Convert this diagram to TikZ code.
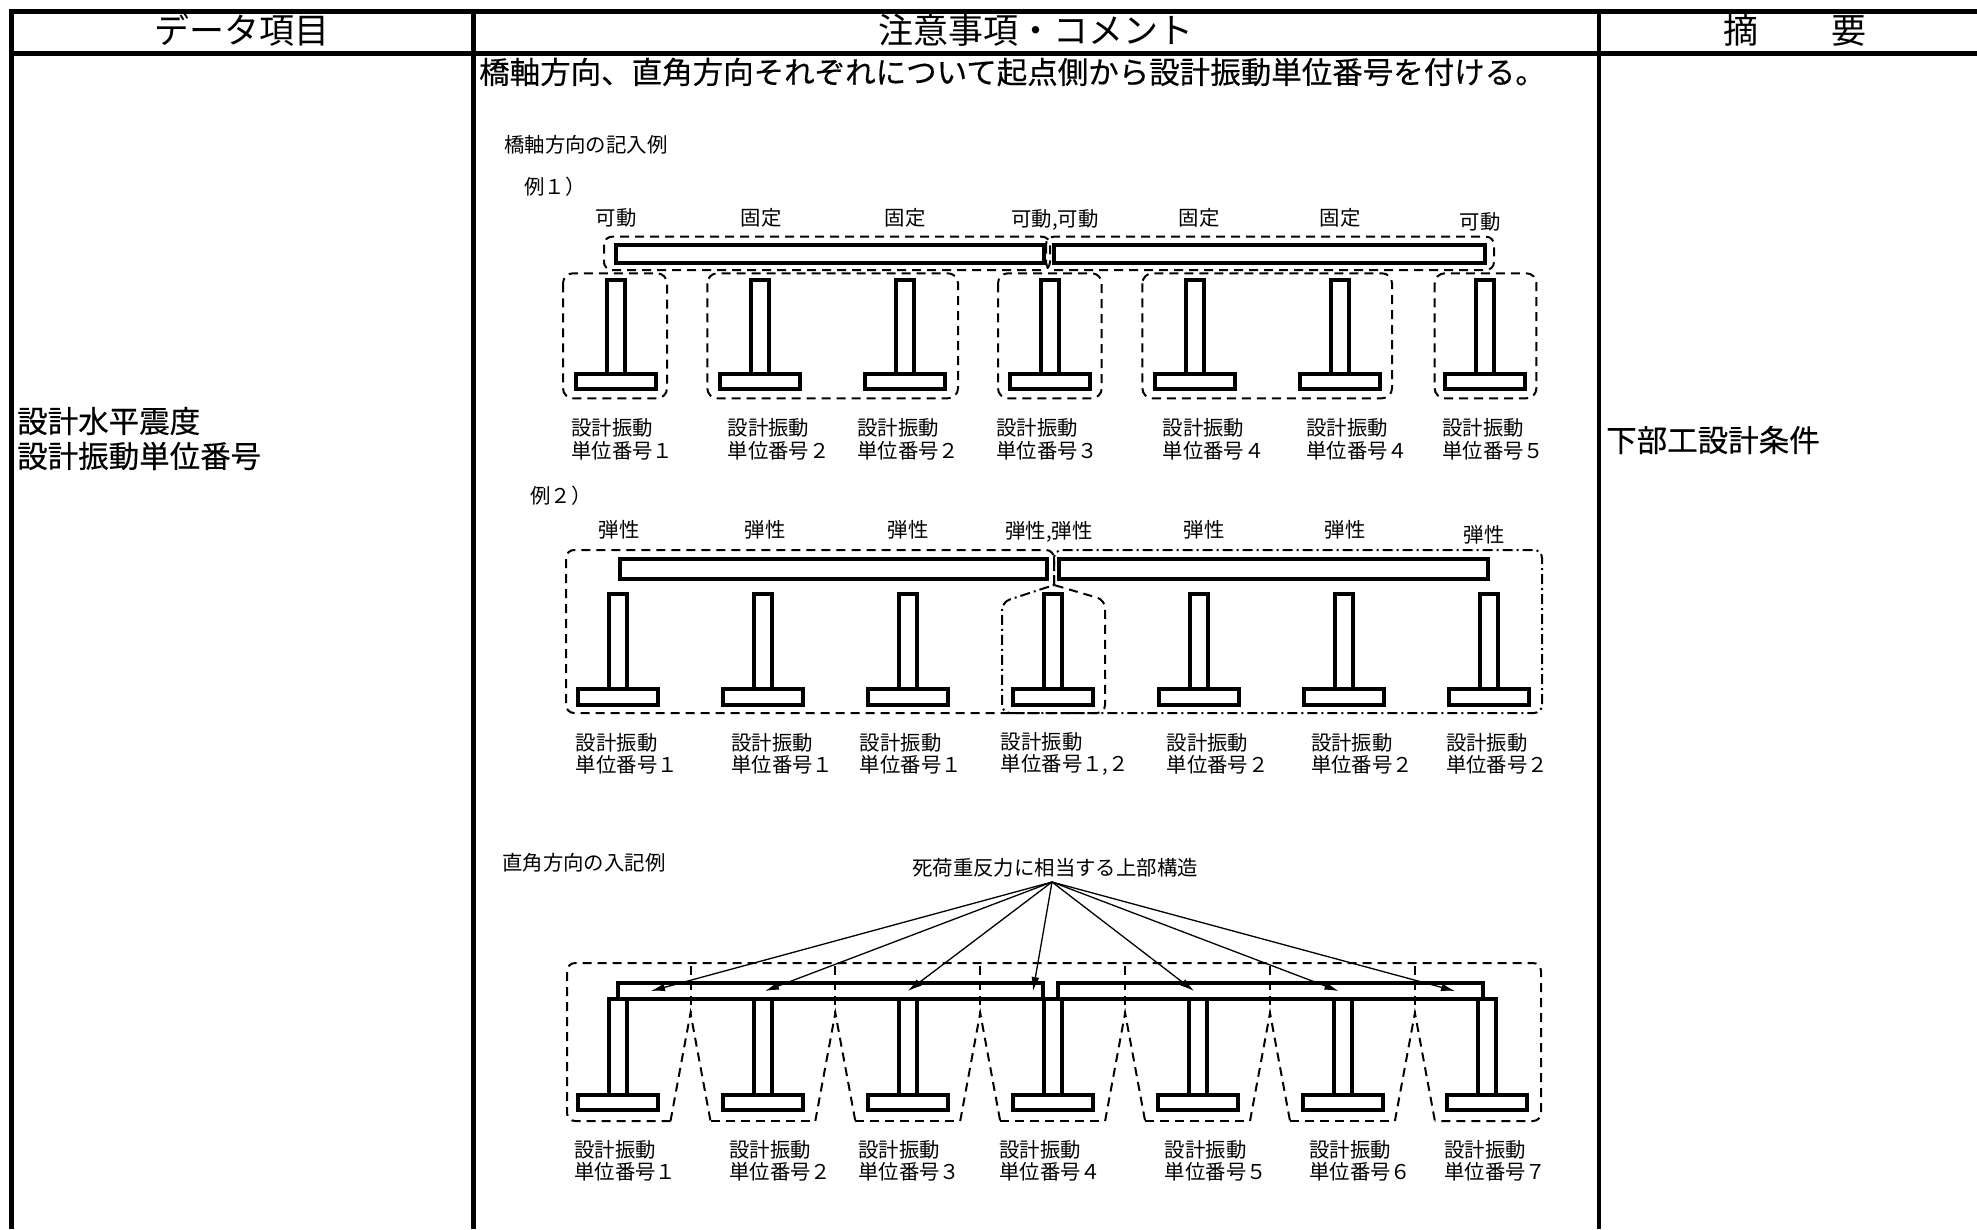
\documentclass[tikz,border=0pt]{standalone}
\usepackage{fontspec}
\setmainfont{Noto Sans CJK JP}
\newfontfamily\bdfam[FakeBold=0.4]{Noto Sans CJK JP}
\usetikzlibrary{arrows.meta}
\newcommand{\hdfont}{\fontsize{35pt}{40pt}\selectfont}
\newcommand{\bdfont}{\bdfam\fontsize{30.5pt}{35pt}\selectfont}
\newcommand{\dgfont}{\fontsize{20.4pt}{22.5pt}\selectfont}
\begin{document}
\begin{tikzpicture}[x=1pt,y=-1pt,
  tbl/.style={line width=4.7pt, line join=miter},
  member/.style={draw, line width=4pt, fill=white},
  dsh/.style={line width=2pt, dash pattern=on 9pt off 6pt},
  dshdot/.style={line width=2pt, dash pattern=on 10pt off 4pt on 2pt off 4pt},
  hd/.style={font=\hdfont, inner sep=0pt},
  bd/.style={font=\bdfont, inner sep=0pt, anchor=west},
  dg/.style={font=\dgfont, inner sep=0pt},
  dgl/.style={font=\dgfont, inner sep=0pt, anchor=west},
  unitlbl/.style={font=\dgfont, inner sep=0pt, anchor=west, align=left},
  load/.style={line width=1.3pt, -{Latex[length=14pt,width=8pt]}},
]
\useasboundingbox (0,0) rectangle (1977,1229);
\fill[white] (0,0) rectangle (1977,1229);

% ---------------- table ----------------
\draw[tbl] (1977,11.7) -- (11.7,11.7) -- (11.7,1229);
\draw[tbl] (11.7,53.3) -- (1977,53.3);
\draw[tbl] (473.5,11.7) -- (473.5,1229);
\draw[tbl] (1599,11.7) -- (1599,1229);

\node[hd] (h1) at (242,30) {データ項目};
\node[hd] (h2) at (1036,30) {注意事項・コメント};
\node[hd] (h3) at (1795,30) {摘\hspace{73pt}要};

\node[bd] (intro) at (479,72) {橋軸方向、直角方向それぞれについて起点側から設計振動単位番号を付ける。};
\node[bd] (item1) at (17,421) {設計水平震度};
\node[bd] (item2) at (17,456) {設計振動単位番号};
\node[bd] (summary) at (1606,440) {下部工設計条件};

% ---------------- example 1 ----------------
\node[dgl] (t1) at (504,145) {橋軸方向の記入例};
\node[dgl] (e1) at (524,187) {例１）};

\foreach \lx/\ly/\txt [count=\k] in {616/218/可動,761/218/固定,905/218/固定,1055/220/{可動,可動},1199/218/固定,1340/218/固定,1480/222/可動}
  \node[dg] (sa\k) at (\lx,\ly) {\txt};

\draw[dsh, rounded corners=8pt] (604,236.7) rectangle (1050,270);
\draw[dsh, rounded corners=8pt] (1046,236.7) rectangle (1494,270);
\foreach \a/\b in {563/667,707.3/958,998/1101.7,1142.4/1392,1434.7/1536.4}
  \draw[dsh, rounded corners=10pt] (\a,273.3) rectangle (\b,398.3);

\draw[member] (615.5,245.3) rectangle (1044,263);
\draw[member] (1053.8,245.3) rectangle (1484.5,263);
\foreach \i in {0,...,6} {
  \pgfmathsetmacro{\px}{615.5+144.85*\i}
  \draw[member] (\px-9,280) rectangle (\px+9,373.7);
  \draw[member] (\px-40,373.7) rectangle (\px+40,389);
}

\foreach \lx/\num [count=\k] in {571/１,727.5/２,857/２,996/３,1162.5/４,1306/４,1442/５}
  \node[unitlbl] (ua\k) at (\lx,439.5) {設計振動\\単位番号\num};

% ---------------- example 2 ----------------
\node[dgl] (e2) at (530,496) {例２）};

\foreach \lx/\ly/\txt [count=\k] in {619/530/弾性,765/530/弾性,908/530/弾性,1049/532/{弾性,弾性},1204/530/弾性,1345/530/弾性,1484/535/弾性}
  \node[dg] (sb\k) at (\lx,\ly) {\txt};

\draw[dsh, rounded corners=8pt] (1054,585) -- (1054,550) -- (566,550) -- (566,713) -- (1105,713) -- (1105,600) -- (1054,585);
\draw[dshdot, rounded corners=8pt] (1054,585) -- (1054,550) -- (1542,550) -- (1542,713) -- (1002,713) -- (1002,602) -- (1054,585);

\draw[member] (620,559) rectangle (1047,579);
\draw[member] (1059,559) rectangle (1488,579);
\foreach \i in {0,...,6} {
  \pgfmathsetmacro{\px}{618+145.15*\i}
  \draw[member] (\px-9,593.7) rectangle (\px+9,688.7);
  \draw[member] (\px-40,688.7) rectangle (\px+40,704.7);
}

\foreach \lx/\num [count=\k] in {575.7/１,731/１,859.6/１,1000.7/{１,２},1166.5/２,1310.8/２,1445.8/２}
  \node[unitlbl] (ub\k) at (\lx,754) {設計振動\\単位番号\num};

% ---------------- example 3 ----------------
\node[dgl] (t3) at (502,863) {直角方向の入記例};
\node[dg] (dl) at (1055,868) {死荷重反力に相当する上部構造};
\coordinate (src) at (1052,882);

\draw[member] (618,982.7) rectangle (1043.4,998.7);
\draw[member] (1058,982.7) rectangle (1483.4,998.7);
\foreach \i in {0,...,6} {
  \pgfmathsetmacro{\px}{618+144.9*\i}
  \draw[member] (\px-9,998.7) rectangle (\px+9,1095.3);
  \draw[member] (\px-40,1095.3) rectangle (\px+40,1109.7);
}

\draw[dsh, rounded corners=8pt] (670.5,1121) -- (567,1121) -- (567,963) -- (1541,963) -- (1541,1121) -- (1434.9,1121);
\foreach \s in {690.5,835.3,980.2,1125.1,1270,1414.9} {
  \draw[dsh] (\s,966) -- (\s,1013);
  \draw[dsh] (\s-20,1121) -- (\s,1013) -- (\s+20,1121);
}
\foreach \a/\b in {690.5/835.3,835.3/980.2,980.2/1125.1,1125.1/1270,1270/1414.9}
  \draw[dsh] (\a+20,1121) -- (\b-20,1121);

\foreach \tx [count=\k] in {651,765,908,1033,1194,1338.5,1455} {
  \coordinate (tip\k) at (\tx,991);
  \draw[load] (src) -- (tip\k);
}

\foreach \lx/\num [count=\k] in {574/１,729/２,858/３,999/４,1164.6/５,1309/６,1444/７}
  \node[unitlbl] (uc\k) at (\lx,1161) {設計振動\\単位番号\num};

\end{tikzpicture}
\end{document}
